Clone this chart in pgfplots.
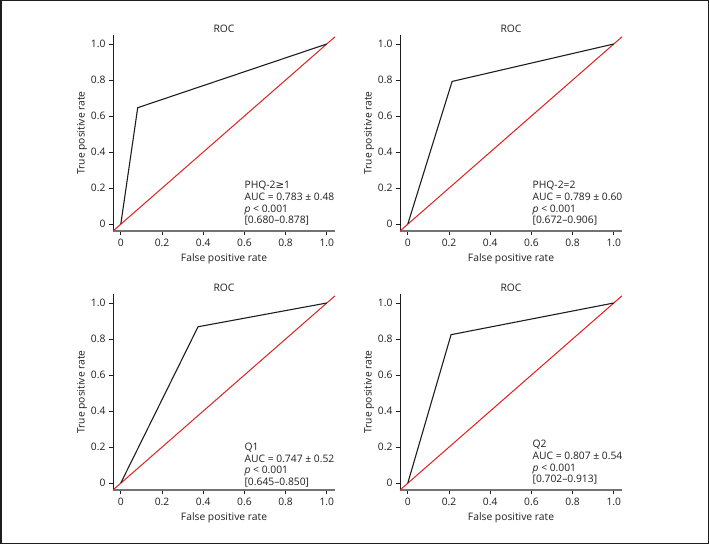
\documentclass[border=0pt]{standalone}
\usepackage{fontspec}
\setmainfont{Open Sans}
\newfontfamily\dejavu{DejaVu Sans}
\usepackage{pgfplots}
\pgfplotsset{compat=1.18}
\definecolor{ink}{RGB}{30,30,30}
\definecolor{rocred}{RGB}{226,30,30}
\definecolor{xaxis}{RGB}{115,115,115}

\pgfplotsset{
  rocax/.style={
    scale only axis, width=222pt, height=196pt,
    xmin=-0.038, xmax=1.04, ymin=-0.039, ymax=1.05,
    axis x line*=bottom, axis y line*=left,
    x axis line style={draw=xaxis, line width=1.1pt, -},
    y axis line style={draw=ink, line width=0.9pt, -},
    xtick={0,0.2,0.4,0.6,0.8,1}, ytick={0,0.2,0.4,0.6,0.8,1},
    xticklabels={0,0.2,0.4,0.6,0.8,1.0}, yticklabels={0,0.2,0.4,0.6,0.8,1.0},
    tick align=outside, major tick length=4pt,
    tick style={draw=ink, line width=0.8pt},
    ticklabel style={font=\fontsize{10.3}{12}\selectfont, text=ink},
    title=ROC, xlabel={False positive rate}, ylabel={True positive rate},
    every axis title/.style={at={(axis description cs:0.5,1)}, anchor=center, yshift=6pt, font=\fontsize{10.3}{12}\selectfont, text=ink},
    every axis x label/.style={at={(axis description cs:0.5,0)}, anchor=center, yshift=-28pt, font=\fontsize{10.3}{12}\selectfont, text=ink},
    every axis y label/.style={at={(axis description cs:0,0.5)}, xshift=-31pt, anchor=center, rotate=90, font=\fontsize{10.3}{12}\selectfont, text=ink},
    clip=false,
  },
  roc/.style={draw=ink, line width=1.1pt, mark=none},
  chance/.style={draw=rocred, line width=1.0pt, mark=none},
}
\tikzset{note/.style={anchor=north west, align=left, inner sep=0pt, text=ink, font=\fontsize{10.3}{11.8}\selectfont}}

\begin{document}
\begin{tikzpicture}
\draw[ink, line width=1.5pt] (0.75pt,0.75pt) rectangle (708.25pt,543.25pt);

% PHQ-2 >= 1
\begin{axis}[rocax, at={(113pt,313pt)}, anchor=south west]
\addplot[chance] coordinates {(-0.038,-0.039) (1.04,1.04)};
\addplot[roc] coordinates {(0,0) (0.082,0.646) (1,1)};
\node[note] at (axis cs:0.60,0.24) {PHQ-2{\dejavu ≥}1\\AUC = 0.783 ± 0.48\\\textit{p} < 0.001\\{[0.680–0.878]}};
\end{axis}

% PHQ-2 = 2
\begin{axis}[rocax, at={(400pt,313pt)}, anchor=south west]
\addplot[chance] coordinates {(-0.038,-0.039) (1.04,1.04)};
\addplot[roc] coordinates {(0,0) (0.215,0.792) (1,1)};
\node[note] at (axis cs:0.605,0.24) {PHQ-2=2\\AUC = 0.789 ± 0.60\\\textit{p} < 0.001\\{[0.672–0.906]}};
\end{axis}

% Q1
\begin{axis}[rocax, at={(113pt,54pt)}, anchor=south west]
\addplot[chance] coordinates {(-0.038,-0.039) (1.04,1.04)};
\addplot[roc] coordinates {(0,0) (0.375,0.868) (1,1)};
\node[note] at (axis cs:0.60,0.224) {Q1\\AUC = 0.747 ± 0.52\\\textit{p} < 0.001\\{[0.645–0.850]}};
\end{axis}

% Q2
\begin{axis}[rocax, at={(400pt,54pt)}, anchor=south west]
\addplot[chance] coordinates {(-0.038,-0.039) (1.04,1.04)};
\addplot[roc] coordinates {(0,0) (0.21,0.824) (1,1)};
\node[note] at (axis cs:0.605,0.24) {Q2\\AUC = 0.807 ± 0.54\\\textit{p} < 0.001\\{[0.702–0.913]}};
\end{axis}
\end{tikzpicture}
\end{document}
